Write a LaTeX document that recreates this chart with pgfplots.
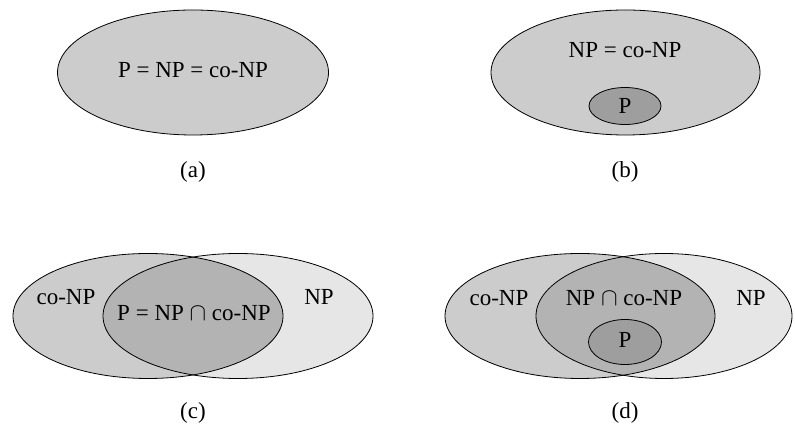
\documentclass[border=0pt]{standalone}
\usepackage{pgfplots}
\pgfplotsset{compat=1.18}
\usepackage{fontspec}
\setmainfont{Liberation Serif}
\definecolor{gA}{HTML}{CCCCCC}
\definecolor{gB}{HTML}{E6E6E6}
\definecolor{gC}{HTML}{B3B3B3}
\definecolor{gD}{HTML}{9E9E9E}
\begin{document}
\begin{tikzpicture}[every node/.append style={font=\fontsize{23}{27}\selectfont}]
\begin{axis}[
  scale only axis, width=795pt, height=428pt,
  xmin=0, xmax=795, ymin=0, ymax=428,
  hide axis, clip=false,
]
\path (axis cs:0,0) rectangle (axis cs:795,428);
% (a)
\draw[fill=gA, line width=0.8pt] (axis cs:193,355.5) ellipse [x radius=135.5, y radius=62.5];
\node[font=\fontsize{23}{27}\selectfont] at (axis cs:193,358) {P = NP = co-NP};
\node[font=\fontsize{23}{27}\selectfont] at (axis cs:193,256) {(a)};
% (b)
\draw[fill=gA, line width=0.8pt] (axis cs:625.5,355.5) ellipse [x radius=134.5, y radius=62.5];
\draw[fill=gD, line width=0.8pt] (axis cs:625,322) ellipse [x radius=36, y radius=18.5];
\node[font=\fontsize{23}{27}\selectfont] at (axis cs:625,378) {NP = co-NP};
\node[font=\fontsize{23}{27}\selectfont] at (axis cs:625,322) {P};
\node[font=\fontsize{23}{27}\selectfont] at (axis cs:625,256) {(b)};
% (c)
\fill[gA] (axis cs:148,112) ellipse [x radius=135, y radius=62.5];
\fill[gB] (axis cs:238,112) ellipse [x radius=135, y radius=62.5];
\begin{scope}
\clip (axis cs:148,112) ellipse [x radius=135, y radius=62.5];
\fill[gC] (axis cs:238,112) ellipse [x radius=135, y radius=62.5];
\end{scope}
\draw[line width=0.8pt] (axis cs:148,112) ellipse [x radius=135, y radius=62.5];
\draw[line width=0.8pt] (axis cs:238,112) ellipse [x radius=135, y radius=62.5];
\node[font=\fontsize{23}{27}\selectfont] at (axis cs:66,131) {co-NP};
\node[font=\fontsize{23}{27}\selectfont] at (axis cs:319,131) {NP};
\node[font=\fontsize{23}{27}\selectfont] at (axis cs:194,115) {P = NP $\cap$ co-NP};
\node[font=\fontsize{23}{27}\selectfont] at (axis cs:193,15) {(c)};
% (d)
\fill[gA] (axis cs:580,112) ellipse [x radius=135, y radius=62.5];
\fill[gB] (axis cs:664,112) ellipse [x radius=128, y radius=62.5];
\begin{scope}
\clip (axis cs:580,112) ellipse [x radius=135, y radius=62.5];
\fill[gC] (axis cs:664,112) ellipse [x radius=128, y radius=62.5];
\end{scope}
\draw[line width=0.8pt] (axis cs:580,112) ellipse [x radius=135, y radius=62.5];
\draw[line width=0.8pt] (axis cs:664,112) ellipse [x radius=128, y radius=62.5];
\draw[fill=gD, line width=0.8pt] (axis cs:625,86) ellipse [x radius=36.5, y radius=22.5];
\node[font=\fontsize{23}{27}\selectfont] at (axis cs:499,130) {co-NP};
\node[font=\fontsize{23}{27}\selectfont] at (axis cs:751,130) {NP};
\node[font=\fontsize{23}{27}\selectfont] at (axis cs:624,130) {NP $\cap$ co-NP};
\node[font=\fontsize{23}{27}\selectfont] at (axis cs:625,88) {P};
\node[font=\fontsize{23}{27}\selectfont] at (axis cs:625,15) {(d)};
\end{axis}
\end{tikzpicture}
\end{document}
